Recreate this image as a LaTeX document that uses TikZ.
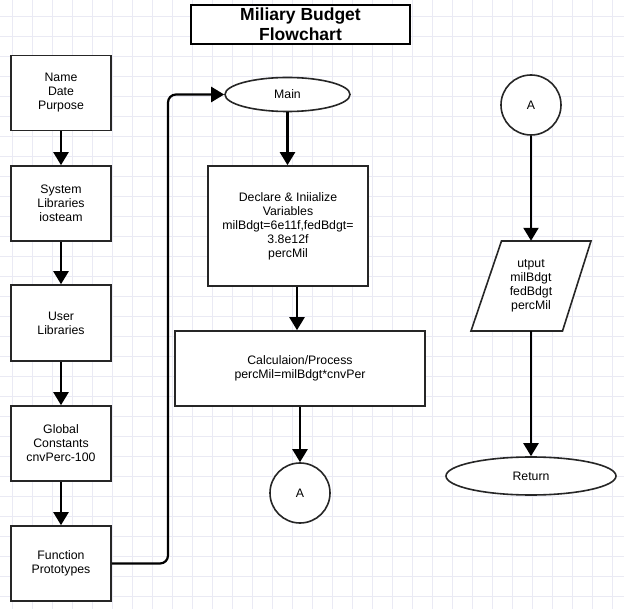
\documentclass[tikz,border=0pt]{standalone}
\usepackage{fontspec}
\setmainfont{Liberation Sans}
\usetikzlibrary{arrows.meta,shapes.geometric,calc}
\definecolor{gridc}{RGB}{234,234,244}
\definecolor{edge}{RGB}{38,38,38}
\tikzset{
  every node/.style={font=\fontsize{12.3}{14}\selectfont, align=center, text=black},
  procbox/.style={draw=edge, line width=1.6pt, rectangle, inner sep=0pt, fill=white},
  termnode/.style={draw=edge, line width=1.6pt, ellipse, inner sep=0pt, fill=white},
  connnode/.style={draw=edge, line width=1.6pt, circle, inner sep=0pt, minimum size=60pt, fill=white},
  arr/.style={draw=black, line width=2.2pt, -{Triangle[width=15pt,length=13pt]}},
}
\begin{document}
\begin{tikzpicture}[x=1pt,y=-1pt]
\useasboundingbox (0,0) rectangle (624,609);
\fill[white] (0,0) rectangle (624,609);
% grid
\foreach \gx in {12,32,...,612} \draw[gridc, line width=0.7pt] (\gx,0) -- (\gx,609);
\foreach \gy in {16,36,...,596} \draw[gridc, line width=0.7pt] (0,\gy) -- (624,\gy);

% title
\node[draw=black, line width=1.2pt, fill=white, minimum width=219pt, minimum height=39pt, inner sep=0pt,
      font=\bfseries\fontsize{17.5}{20}\selectfont] (title) at (300.5,24.5) {Miliary Budget\\Flowchart};

% left column
\node[procbox, minimum width=100pt, minimum height=75pt] (hdr) at (61,93) {Name\\Date\\Purpose};
\node[procbox, minimum width=100pt, minimum height=75pt] (sys) at (61,203.5) {System\\Libraries\\iosteam};
\node[procbox, minimum width=100pt, minimum height=76pt] (usr) at (61,323) {User\\Libraries};
\node[procbox, minimum width=100pt, minimum height=75pt] (glob) at (61,443.5) {Global\\Constants\\cnvPerc-100};
\node[procbox, minimum width=100pt, minimum height=75pt] (proto) at (61,563.5) {Function\\Prototypes};

% middle column
\node[termnode, minimum width=125pt, minimum height=34pt] (main) at (287.5,94.5) {Main};
\node[procbox, minimum width=160pt, minimum height=120pt] (decl) at (288,226)
  {Declare \& Iniialize\\Variables\\milBdgt=6e11f,fedBdgt=\\3.8e12f\\percMil};
\node[procbox, minimum width=250pt, minimum height=75pt] (calc) at (300,368.5)
  {Calculaion/Process\\percMil=milBdgt*cnvPer};
\node[connnode] (ca) at (300,493) {A};

% right column
\node[connnode] (cb) at (531,105) {A};
\node[minimum width=60pt, minimum height=90pt, inner sep=0pt] (outp) at (531,286) {};
\draw[draw=edge, line width=1.6pt, fill=white] (501.5,241) -- (591,241) -- (562.5,331) -- (471,331) -- cycle;
\node at (531,286) {utput\\milBdgt\\fedBdgt\\percMil};
\node[termnode, minimum width=170pt, minimum height=38pt] (ret) at (531,476) {Return};

% connectors
\draw[arr] (hdr) -- (sys);
\draw[arr] (sys) -- (usr);
\draw[arr] (usr) -- (glob);
\draw[arr] (glob) -- (proto);
\coordinate (k1) at (168,563.5);
\coordinate (k2) at (168,94.5);
\draw[arr, rounded corners=8pt] (proto.east) -- (k1) -- (k2) -- (main.west);
\draw[arr] (main.south) -- (main.south |- decl.north);
\draw[arr] ([xshift=9pt]decl.south) -- ([xshift=9pt]decl.south |- calc.north);
\draw[arr] (calc.south) -- (ca.north);
\draw[arr] (cb.south) -- (outp.north);
\draw[arr] (outp.south) -- (ret.north);
\end{tikzpicture}
\end{document}
